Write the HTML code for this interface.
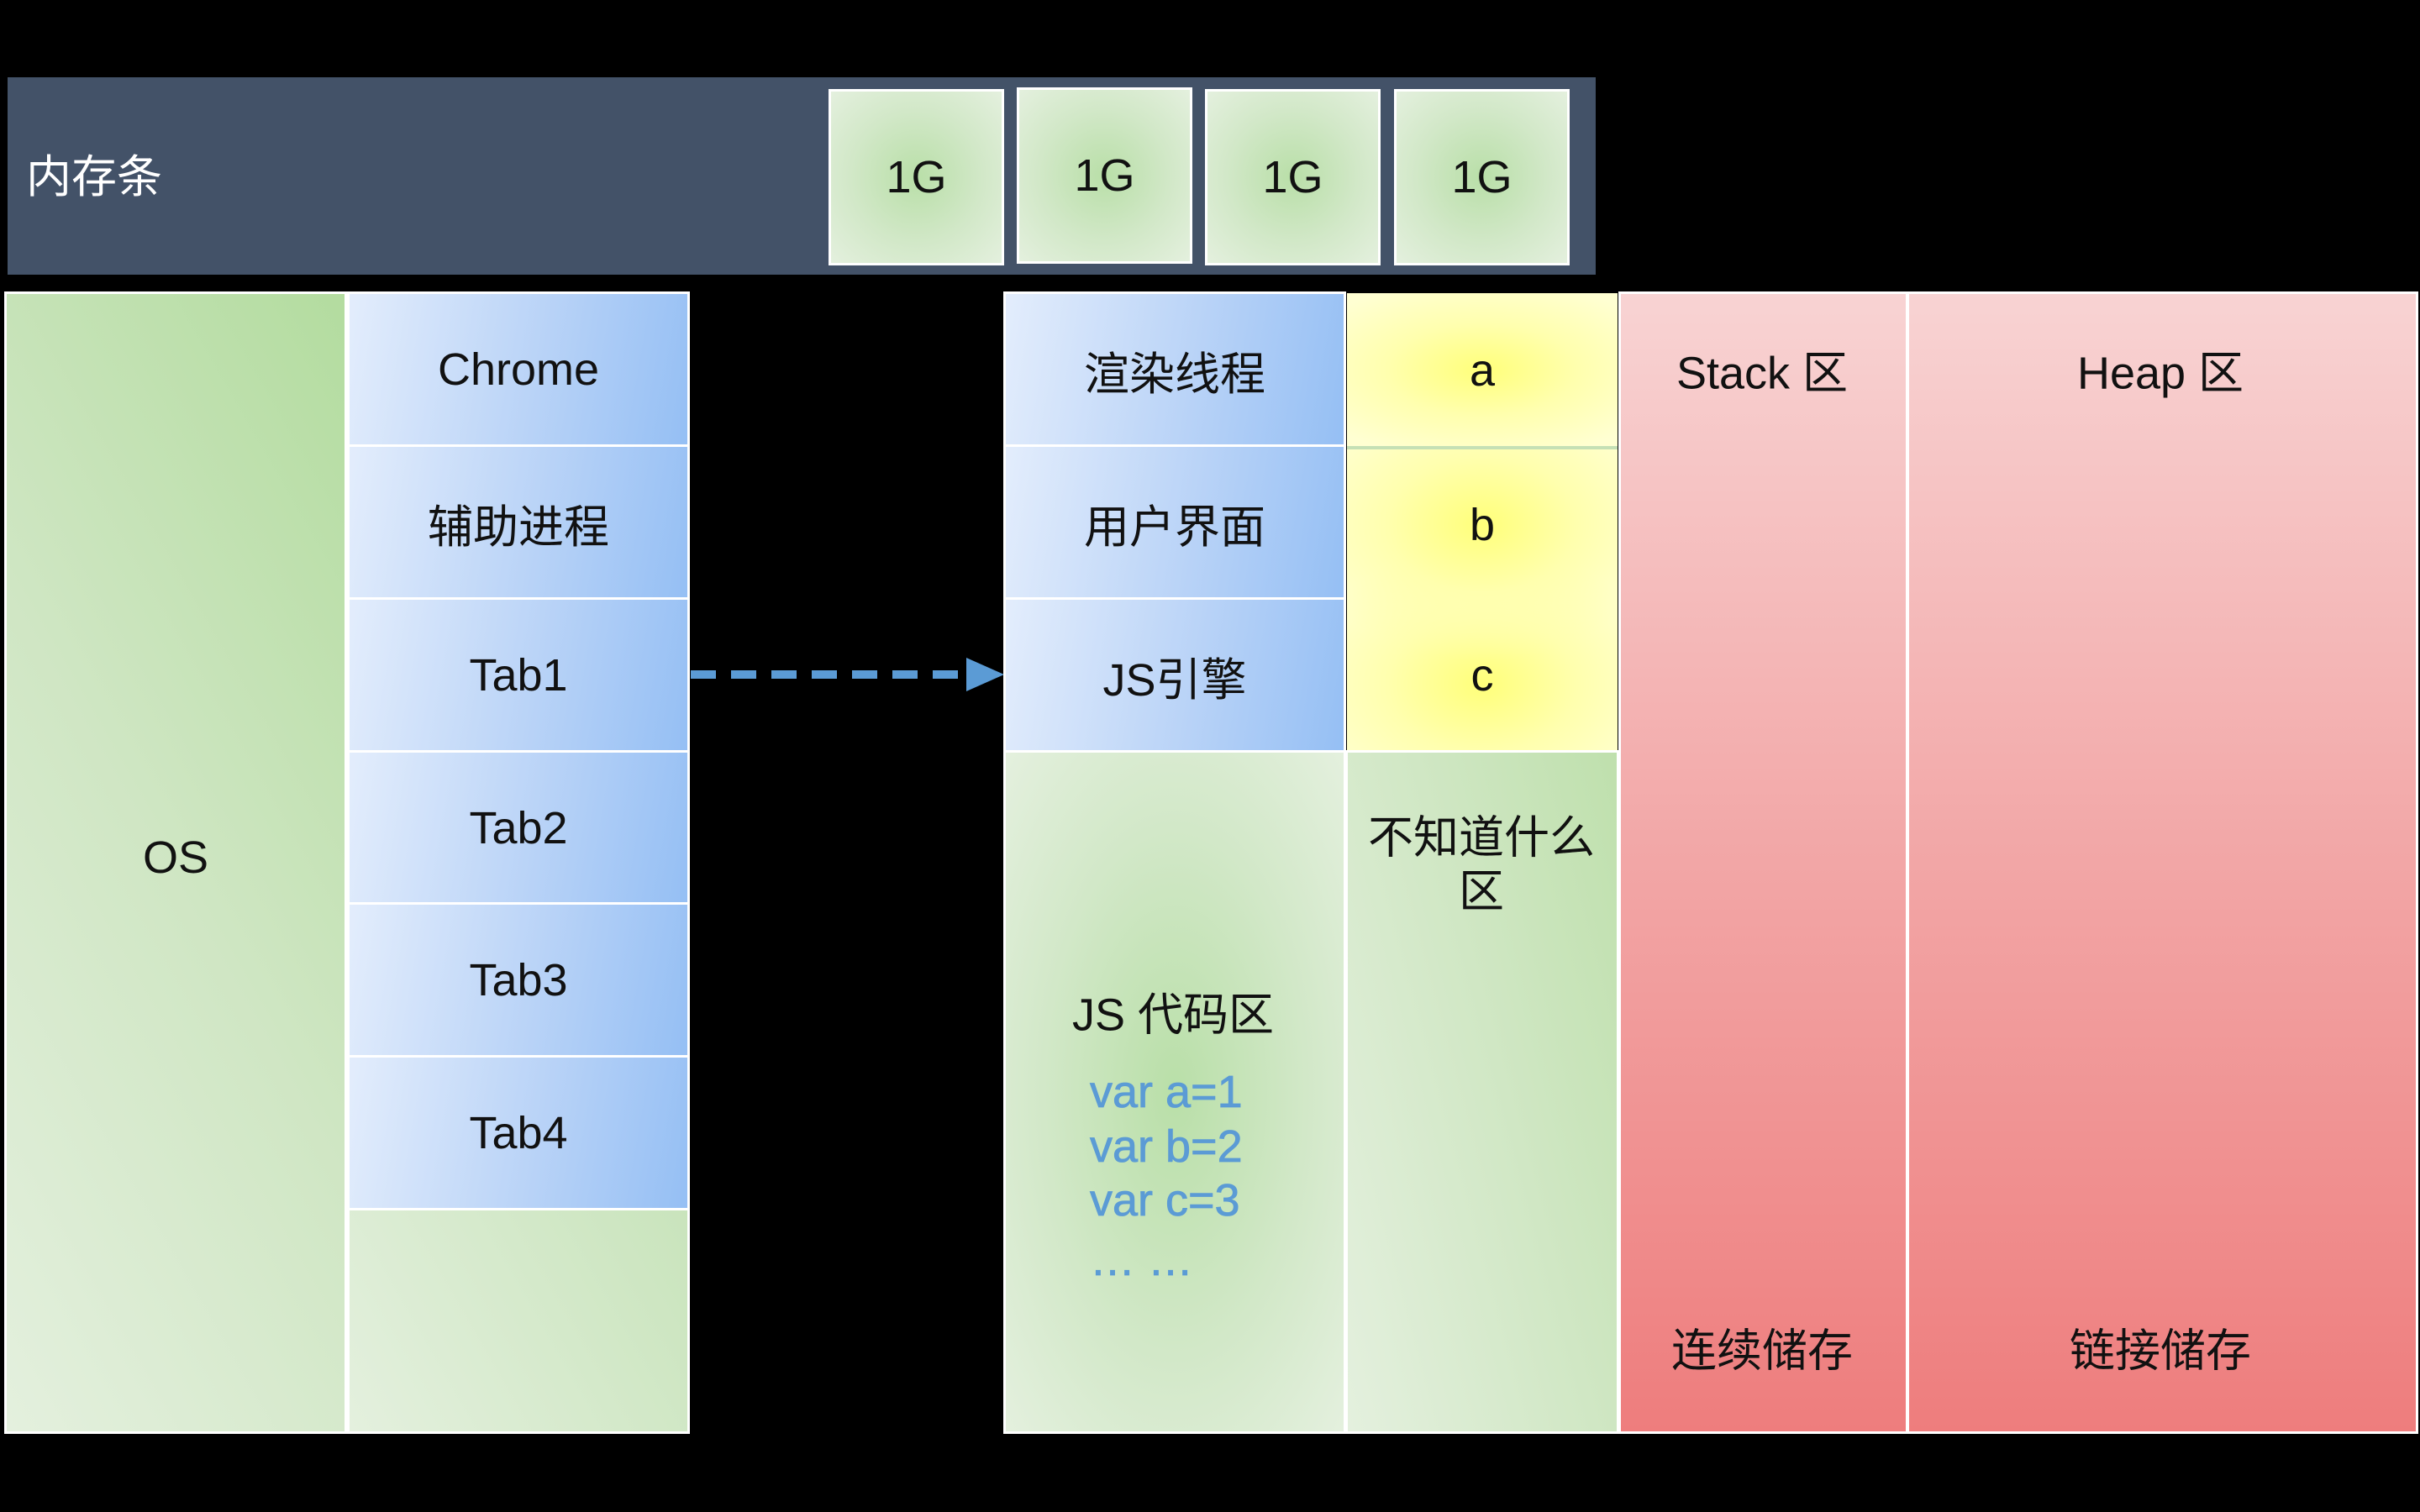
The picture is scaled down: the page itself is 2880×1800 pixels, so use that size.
<!DOCTYPE html>
<html><head><meta charset="utf-8"><style>
body{margin:0;width:2880px;height:1800px;background:#000;position:relative;overflow:hidden;font-family:"Liberation Sans","Noto Sans CJK SC",sans-serif;}
.a{position:absolute;box-sizing:border-box;}
.c{display:flex;align-items:center;justify-content:center;font-size:54px;color:#111;}
.blue{border:3px solid #fff;background:linear-gradient(100deg,#e3edfc 0%,#b9d3f7 55%,#95bff4 100%);}
.g{background:radial-gradient(ellipse at 50% 50%,#b9dfa8 0%,#d2e8c8 55%,#e4f0de 100%);border:3px solid #fff;}
.gl{background:linear-gradient(60deg,#e4f0de 0%,#cfe6c3 50%,#b3dc9f 100%);border:3px solid #fff;}
.y{background:radial-gradient(ellipse 70% 60% at 50% 50%,#ffff7a 0%,#ffffae 50%,#ffffd2 100%);}
.p{background:linear-gradient(180deg,#f8d3d3 0%,#f2a6a6 50%,#ee7d7d 100%);border:3px solid #fff;}
.t{position:absolute;font-size:54px;color:#111;transform:translate(-50%,-50%);white-space:nowrap;}
.code{position:absolute;left:1297px;font-size:54px;color:#5b9bd5;transform:translateY(-50%);-webkit-text-stroke:0.8px #5b9bd5;}
</style></head><body>
<div class="a" style="left:9px;top:92px;width:1890px;height:235px;background:#435268;"></div>
<div class="a" style="left:31px;top:166px;font-size:54px;color:#fff;">内存条</div>
<div class="a c g" style="left:986px;top:106px;width:209px;height:210px;">1G</div>
<div class="a c g" style="left:1210px;top:104px;width:209px;height:210px;">1G</div>
<div class="a c g" style="left:1434px;top:106px;width:209px;height:210px;">1G</div>
<div class="a c g" style="left:1659px;top:106px;width:209px;height:210px;">1G</div>

<div class="a gl" style="left:5px;top:347px;width:408px;height:1360px;"></div>
<div class="t" style="left:209px;top:1021px;">OS</div>

<div class="a c blue" style="left:413px;top:347px;width:408px;height:186px;">Chrome</div>
<div class="a c blue" style="left:413px;top:529px;width:408px;height:186px;">辅助进程</div>
<div class="a c blue" style="left:413px;top:711px;width:408px;height:186px;">Tab1</div>
<div class="a c blue" style="left:413px;top:893px;width:408px;height:186px;">Tab2</div>
<div class="a c blue" style="left:413px;top:1074px;width:408px;height:186px;">Tab3</div>
<div class="a c blue" style="left:413px;top:1256px;width:408px;height:186px;">Tab4</div>
<div class="a" style="left:413px;top:1438px;width:408px;height:269px;border:3px solid #fff;background:linear-gradient(60deg,#e4f0de,#c9e4bc);"></div>

<svg class="a" style="left:820px;top:780px;" width="380" height="50">
<line x1="2" y1="23" x2="338" y2="23" stroke="#5b9bd5" stroke-width="10" stroke-dasharray="30,18"/>
<polygon points="330,3 375,23 330,43" fill="#5b9bd5"/>
</svg>

<div class="a c blue" style="left:1194px;top:347px;width:408px;height:186px;">渲染线程</div>
<div class="a c blue" style="left:1194px;top:529px;width:408px;height:186px;">用户界面</div>
<div class="a c blue" style="left:1194px;top:711px;width:408px;height:186px;">JS引擎</div>
<div class="a g" style="left:1194px;top:893px;width:408px;height:814px;"></div>
<div class="t" style="left:1396px;top:1203px;">JS 代码区</div>
<div class="code" style="top:1300px;">var a=1</div>
<div class="code" style="top:1365px;">var b=2</div>
<div class="code" style="top:1429px;">var c=3</div>
<div class="code" style="top:1500px;">… …</div>

<div class="a c y" style="left:1603px;top:349px;width:322px;height:183px;">a</div>
<div class="a" style="left:1603px;top:531px;width:322px;height:4px;background:#c5e0b5;"></div>
<div class="a c y" style="left:1603px;top:535px;width:322px;height:359px;background:radial-gradient(ellipse 70% 45% at 50% 25%,#ffff7a 0%,#ffffae 50%,rgba(255,255,210,0) 100%),radial-gradient(ellipse 70% 45% at 50% 78%,#ffff7a 0%,#ffffae 50%,#ffffd2 100%);align-items:stretch;flex-direction:column;">
<div style="flex:1;display:flex;align-items:center;justify-content:center;">b</div>
<div style="flex:1;display:flex;align-items:center;justify-content:center;">c</div>
</div>
<div class="a gl" style="left:1601px;top:893px;width:326px;height:814px;background:linear-gradient(75deg,#e4f0de 0%,#d0e7c4 55%,#bfe0ad 100%);"></div>
<div class="t" style="left:1763px;top:992px;">不知道什么</div>
<div class="t" style="left:1763px;top:1056px;">区</div>

<div class="a p" style="left:1926px;top:347px;width:345px;height:1360px;"></div>
<div class="a p" style="left:2269px;top:347px;width:609px;height:1360px;"></div>
<div class="t" style="left:2097px;top:439px;">Stack 区</div>
<div class="t" style="left:2097px;top:1603px;">连续储存</div>
<div class="t" style="left:2571px;top:439px;">Heap 区</div>
<div class="t" style="left:2571px;top:1603px;">链接储存</div>
</body></html>
